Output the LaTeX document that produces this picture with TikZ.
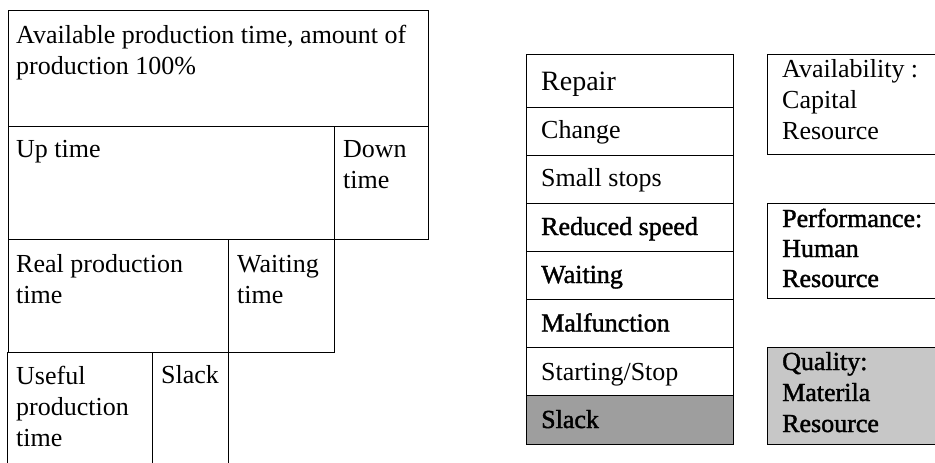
\documentclass[tikz,border=0pt]{standalone}
\usepackage{fontspec}
\setmainfont{Liberation Serif}
\newfontfamily\darkserif{Liberation Serif}[FakeBold=1.5]

\begin{document}
\begin{tikzpicture}[x=1pt,y=-1pt,
  frame/.style={draw, line width=1pt},
  box/.style={frame, rectangle, inner sep=0pt, anchor=north west},
  % anchor = baseline of the LAST line of the text
  lbl/.style={anchor=base west, inner sep=0pt, align=left, font=\fontsize{26}{31}\selectfont},
  dlbl/.style={lbl, font=\fontsize{26}{31}\darkserif},
]
\useasboundingbox (0,0) rectangle (935,463);

% ---------- left panel ----------
\node[box, minimum width=420.5pt, minimum height=116pt] (avail) at (7.5,10) {};
\node[box, minimum width=326.5pt, minimum height=113pt] (up) at (7.5,126) {};
\node[box, minimum width=94pt, minimum height=113pt] (down) at (334,126) {};
\node[box, minimum width=220.5pt, minimum height=113pt] (real) at (7.5,239) {};
\node[box, minimum width=106pt, minimum height=113pt] (wait) at (228,239) {};
\coordinate (u1) at (7.5,463);
\coordinate (u2) at (7.5,352);
\coordinate (u3) at (152,352);
\coordinate (u4) at (152,463);
\coordinate (s3) at (228,352);
\coordinate (s4) at (228,463);
\draw[frame] (u1) -- (u2) -- (u3) -- (u4);
\draw[frame] (u3) -- (s3) -- (s4);

\node[lbl] (tavail) at (16,74) {Available production time, amount of\\production 100\%};
\node[lbl] (tup) at (16,157) {Up time};
\node[lbl] (tdown) at (343,188) {Down\\time};
\node[lbl] (treal) at (16,303) {Real production\\time};
\node[lbl] (twait) at (237,303) {Waiting\\time};
\node[lbl] (tuse) at (16,446) {Useful\\production\\time};
\node[lbl] (tslack) at (161,383) {Slack};

% ---------- right column ----------
\node[box, minimum width=207pt, minimum height=53pt] (r1) at (526,54) {};
\node[box, minimum width=207pt, minimum height=48pt] (r2) at (526,107) {};
\node[box, minimum width=207pt, minimum height=48pt] (r3) at (526,155) {};
\node[box, minimum width=207pt, minimum height=48pt] (r4) at (526,203) {};
\node[box, minimum width=207pt, minimum height=48pt] (r5) at (526,251) {};
\node[box, minimum width=207pt, minimum height=48pt] (r6) at (526,299) {};
\node[box, minimum width=207pt, minimum height=48pt] (r7) at (526,347) {};
\node[box, minimum width=207pt, minimum height=49pt, fill=black!38, line width=1.2pt] (r8) at (526,395) {};

\node[lbl, font=\fontsize{28}{31}\selectfont] (t1) at (541,90) {Repair};
\node[lbl] (t2) at (541,138) {Change};
\node[lbl] (t3) at (541,186.5) {Small stops};
\node[dlbl] (t4) at (541,235) {Reduced speed};
\node[dlbl] (t5) at (541,283) {Waiting};
\node[dlbl] (t6) at (541,331.5) {Malfunction};
\node[lbl] (t7) at (541,380) {Starting/Stop};
\node[dlbl] (t8) at (541,428) {Slack};

% ---------- right boxes (cut at the right edge) ----------
\fill[black!22] (767,347) rectangle (935,444);
\coordinate (a1) at (935,54);  \coordinate (a2) at (767,54);
\coordinate (a3) at (767,154); \coordinate (a4) at (935,154);
\coordinate (p1) at (935,203); \coordinate (p2) at (767,203);
\coordinate (p3) at (767,298); \coordinate (p4) at (935,298);
\coordinate (q1) at (935,347); \coordinate (q2) at (767,347);
\coordinate (q3) at (767,444); \coordinate (q4) at (935,444);
\draw[frame] (a1) -- (a2) -- (a3) -- (a4);
\draw[frame] (p1) -- (p2) -- (p3) -- (p4);
\draw[frame] (q1) -- (q2) -- (q3) -- (q4);

\node[lbl] (ta) at (782,139) {Availability :\\Capital\\Resource};
\node[dlbl, font=\fontsize{26}{30}\darkserif] (tp) at (782,287) {Performance:\\Human\\Resource};
\node[dlbl] (tq) at (782,432) {Quality:\\Materila\\Resource};
\end{tikzpicture}
\end{document}
